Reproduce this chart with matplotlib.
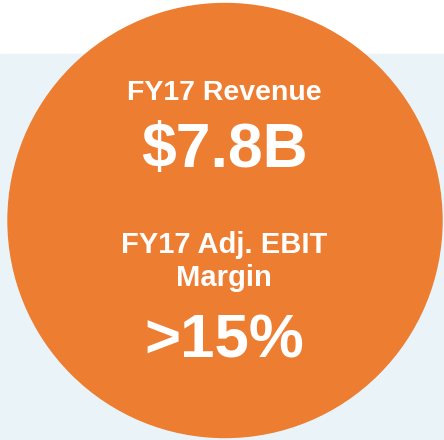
import matplotlib.pyplot as plt
from matplotlib.patches import Circle, Rectangle

# labels and headline numbers
labels = ['FY17 Revenue', 'FY17 Adj. EBIT\nMargin']
values = ['$7.8B', '>15%']

orange = '#ED7D31'
light_blue = '#EAF4F8'

fig = plt.figure(figsize=(4.44, 4.40), dpi=100)
ax = fig.add_axes([0, 0, 1, 1])
ax.set_xlim(0, 444)
ax.set_ylim(440, 0)
ax.axis('off')

# background band and the circle
ax.add_patch(Rectangle((0, 54), 444, 386, color=light_blue, zorder=0))
ax.add_patch(Circle((225, 220.5), 217, color=orange, zorder=1))

font = dict(color='white', fontweight='bold', family='Liberation Sans',
            ha='center', va='baseline', zorder=2)

ax.text(224, 100, labels[0], fontsize=20.5, **font)
ax.text(224, 167, values[0], fontsize=45, **font)
ax.text(224, 253, labels[1].split('\n')[0], fontsize=21, **font)
ax.text(224, 286, labels[1].split('\n')[1], fontsize=21, **font)
ax.text(224, 357, values[1], fontsize=44.5, **font)

fig.savefig('out.png', dpi=100)
